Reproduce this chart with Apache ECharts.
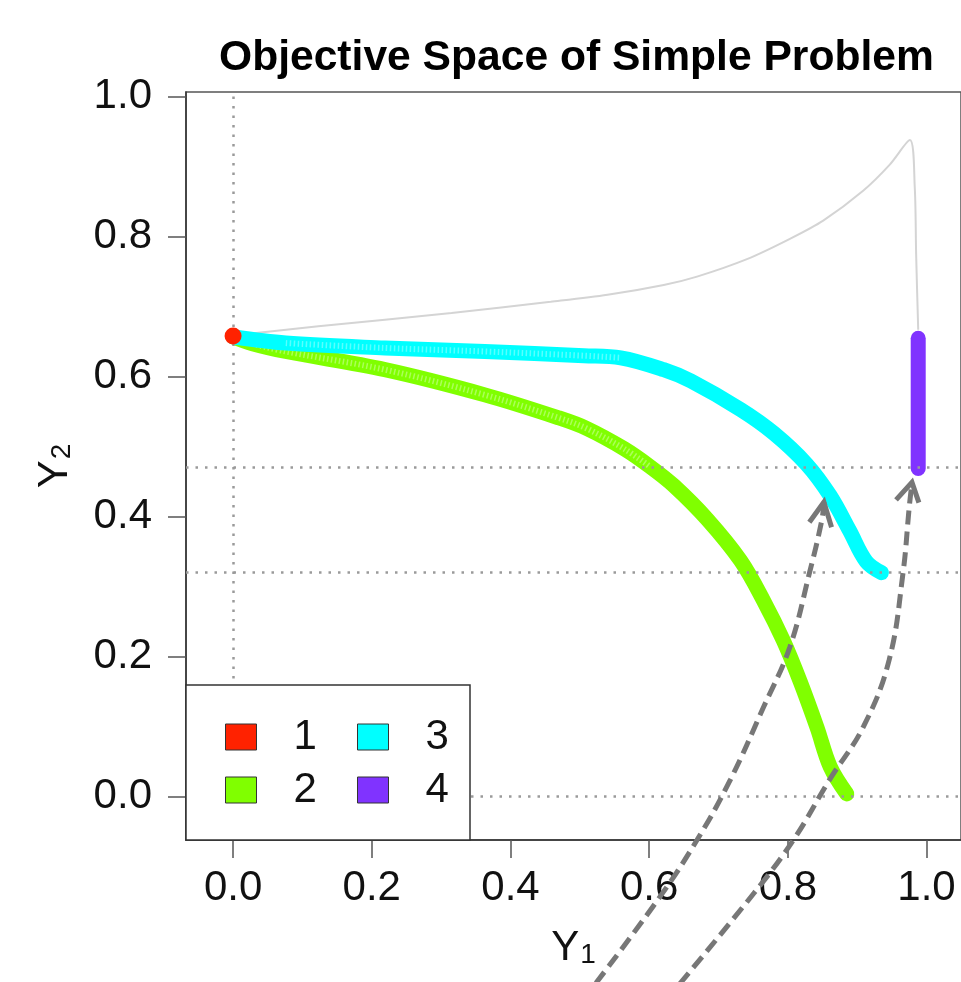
<!DOCTYPE html>
<html><head><meta charset="utf-8">
<script src="https://cdn.jsdelivr.net/npm/echarts@6/dist/echarts.min.js"></script>
<style>html,body{margin:0;padding:0;background:#fff}#c{width:961px;height:982px}</style>
</head><body><div id="c"></div>
<script>
// ---- data ----
const xTicks = [0, 0.2, 0.4, 0.6, 0.8, 1.0];
const yTicks = [0, 0.2, 0.4, 0.6, 0.8, 1.0];
const seriesNames = ['1', '2', '3', '4'];
const s1 = [[0, 0.658]];
const s2 = [[0,0.657],[0.028,0.647],[0.076,0.636],[0.219,0.610],[0.363,0.574],[0.47,0.541],[0.51,0.526],[0.564,0.497],[0.602,0.471],[0.636,0.444],[0.684,0.396],[0.732,0.337],[0.765,0.280],[0.794,0.222],[0.818,0.164],[0.842,0.099],[0.861,0.043],[0.885,0.004]];
const s3 = [[0,0.657],[0.076,0.648],[0.219,0.641],[0.363,0.636],[0.506,0.630],[0.559,0.627],[0.621,0.610],[0.660,0.594],[0.732,0.553],[0.780,0.519],[0.827,0.475],[0.861,0.430],[0.889,0.380],[0.913,0.336],[0.935,0.320]];
const s4 = [[0.988,0.655],[0.988,0.469]];
const boundary = [[0,0.659],[0.123,0.672],[0.315,0.691],[0.458,0.707],[0.540,0.717],[0.621,0.731],[0.669,0.743],[0.741,0.768],[0.803,0.797],[0.851,0.823],[0.909,0.866],[0.947,0.903],[0.976,0.938],[0.983,0.871],[0.985,0.775],[0.988,0.667]];
const refY = [0.469, 0.321, 0.0];
const refX = [0.0];
const arrow1 = [[0.505,-0.29],[0.612,-0.148],[0.669,-0.062],[0.717,0.024],[0.765,0.128],[0.803,0.214],[0.831,0.319],[0.849,0.395],[0.852,0.421]];
const arrow2 = [[0.625,-0.29],[0.751,-0.138],[0.808,-0.062],[0.860,0.024],[0.909,0.1],[0.946,0.195],[0.966,0.319],[0.975,0.413],[0.979,0.449]];
const head1 = [[0.831,0.392],[0.852,0.421],[0.863,0.385]];
const head2 = [[0.956,0.424],[0.979,0.449],[0.989,0.42]];
const colors = ['#FF2200', '#80FF00', '#00FFFF', '#8033FF'];

const FONT = 'Liberation Sans, Arial, Helvetica, sans-serif';
const chart = echarts.init(document.getElementById('c'), null, {renderer: 'canvas'});
const richName = {
  y: {fontSize: 42, fontFamily: FONT, color: '#111', lineHeight: 42, verticalAlign: 'top'},
  s: {fontSize: 28, fontFamily: FONT, color: '#111', lineHeight: 28, verticalAlign: 'bottom', padding: [23, 0, 0, 1]}
};
function axisCommon(ticks) {
  return {
    type: 'value',
    axisLine: {show: true, onZero: false, lineStyle: {color: '#333', width: 1.5}},
    splitLine: {show: false},
    axisTick: {show: true, length: 18, customValues: ticks, lineStyle: {color: '#555', width: 1.5}},
    axisLabel: {customValues: ticks, formatter: v => v.toFixed(1), fontSize: 42, fontFamily: FONT, color: '#111'},
  };
}
const xAxis = axisCommon(xTicks);
Object.assign(xAxis, {min: -0.0679, max: 1.0497, name: '{y|Y}{s|1}', nameLocation: 'middle', nameGap: 87, nameTextStyle: {rich: richName}});
xAxis.axisLabel.margin = 27;
const yAxis = axisCommon(yTicks);
Object.assign(yAxis, {min: -0.0619, max: 1.0067, name: '{y|Y}{s|2}', nameLocation: 'middle', nameRotate: 90, nameGap: 110, nameTextStyle: {rich: richName}});
yAxis.axisLabel.margin = 34;

function lineSeries(name, data, color, width, z) {
  return {name, type: 'line', data, showSymbol: false, symbol: 'none', smooth: 0.35, z,
    itemStyle: {color, opacity: 1}, lineStyle: {color, width, cap: 'round', join: 'round'}, silent: true, animation: false};
}
function hatch(data, z) {
  return {type: 'line', data, symbol: 'none', smooth: 0.35, z, silent: true,
    lineStyle: {color: 'rgba(255,255,255,0.35)', width: 6, type: [1.5, 2.5]}};
}
const legendCommon = {
  orient: 'vertical', icon: 'rect', itemWidth: 31, itemHeight: 26, itemGap: 11, padding: 0, z: 100,
  selectedMode: false,
  itemStyle: {borderColor: '#333', borderWidth: 1, opacity: 1},
  textStyle: {fontSize: 42, fontFamily: FONT, color: '#111', padding: [0, 0, 0, 32]}
};
const option = {
  animation: false,
  backgroundColor: '#fff',
  title: {text: 'Objective Space of Simple Problem', left: 219, top: 37, padding: 0,
    textStyle: {fontSize: 42.6, fontWeight: 'bold', fontFamily: FONT, color: '#000'}},
  grid: {left: 186, top: 92, width: 779, height: 748, show: true, borderColor: '#555', borderWidth: 1.5, containLabel: false},
  xAxis, yAxis,
  legend: [
    Object.assign({}, legendCommon, {data: [seriesNames[0], seriesNames[1]], left: 225, top: 716}),
    Object.assign({}, legendCommon, {data: [seriesNames[2], seriesNames[3]], left: 357, top: 716})
  ],
  graphic: [{type: 'rect', z: 90, shape: {x: 186, y: 685, width: 284, height: 155},
    style: {fill: '#fff', stroke: '#333', lineWidth: 1.5}}],
  series: [
    {name: 'boundary', type: 'line', data: boundary, symbol: 'none', smooth: 0.3, z: 1, silent: true,
      lineStyle: {color: '#d4d4d4', width: 2},
      markLine: {silent: true, symbol: ['none', 'none'], label: {show: false},
        lineStyle: {color: '#9a9a9a', type: [2.5, 7], width: 2.5},
        data: refY.map(v => ({yAxis: v})).concat(refX.map(v => ({xAxis: v})))}},
    lineSeries(seriesNames[1], s2, colors[1], 15, 2),
    hatch(s2.slice(1, 9), 2.1),
    lineSeries(seriesNames[2], s3, colors[2], 15, 3),
    hatch(s3.slice(1, 6), 3.1),
    lineSeries(seriesNames[3], s4, colors[3], 15, 4),
    {name: seriesNames[0], type: 'scatter', data: s1, symbol: 'circle', symbolSize: 17, z: 5,
      itemStyle: {color: colors[0], opacity: 1}, silent: true},
    {name: 'arrowA', type: 'line', data: arrow1, symbol: 'none', smooth: 0.4, clip: false, z: 200, silent: true,
      lineStyle: {color: '#777', width: 5, type: [14, 7]}},
    {name: 'arrowB', type: 'line', data: arrow2, symbol: 'none', smooth: 0.4, clip: false, z: 200, silent: true,
      lineStyle: {color: '#777', width: 5, type: [14, 7]}},
    {name: 'headA', type: 'line', data: head1, symbol: 'none', clip: false, z: 200, silent: true,
      lineStyle: {color: '#777', width: 5, join: 'miter'}},
    {name: 'headB', type: 'line', data: head2, symbol: 'none', clip: false, z: 200, silent: true,
      lineStyle: {color: '#777', width: 5, join: 'miter'}}
  ]
};
chart.setOption(option);
</script></body></html>
